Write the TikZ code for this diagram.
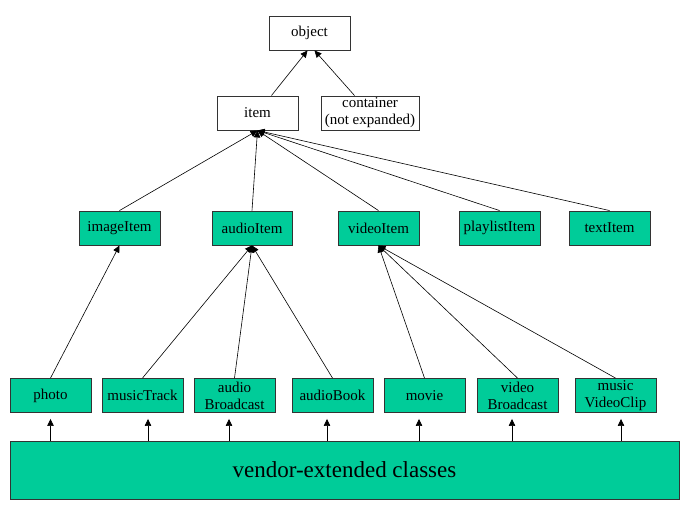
\documentclass[tikz,border=0pt]{standalone}
\usepackage{fontspec}
\setmainfont{Liberation Serif}
\usetikzlibrary{arrows.meta,positioning,shapes}
\definecolor{clsgreen}{RGB}{0,204,153}

\begin{document}
\begin{tikzpicture} [->,>={Triangle[length=7pt,width=6.5pt]},x=1pt,y=-1pt,line width=0.6pt,
  cls/.style={draw=black!80,line width=0.9pt,fill=clsgreen,minimum width=81pt,minimum height=34pt,
    inner sep=1pt,align=center,font=\fontsize{15}{17}\selectfont},
  base/.style={cls,fill=white}]

  \useasboundingbox (0,0) rectangle (685,515);

  % upper part
  \node[base] (obj) at (309.5,33) {object};
  \node[base] (item) at (257.5,113) {item};
  \node[base, minimum width=98pt] (cont) at (370,113) {container\\(not expanded)};

  % item classes
  \node[cls] (img) at (119.5,228) {imageItem};
  \node[cls, minimum width=80pt] (aud) at (252,228) {audioItem};
  \node[cls] (vid) at (378.5,228) {videoItem};
  \node[cls] (plist) at (499.5,228) {playlistItem};
  \node[cls] (txt) at (609.5,228) {textItem};

  % leaf classes
  \node[cls] (photo) at (50.5,395.5) {photo};
  \node[cls] (mtrack) at (142.5,395.5) {musicTrack};
  \node[cls] (abcast) at (234.5,395.5) {audio\\Broadcast};
  \node[cls] (abook) at (332.5,395.5) {audioBook};
  \node[cls] (movie) at (424.5,395.5) {movie};
  \node[cls] (vbcast) at (517.5,395.5) {video\\Broadcast};
  \node[cls] (mvclip) at (615.5,395.5) {music\\VideoClip};

  \node[cls, minimum width=669pt, minimum height=58pt, font=\fontsize{23}{26}\selectfont]
    (vendor) at (344.5,470) {vendor-extended classes};

  \path
    (item) edge ([xshift=-2pt]obj.south)
    (cont) edge ([xshift=5pt]obj.south)
    (img.north) edge (item.south)
    (aud.north) edge (item.south)
    (vid.north) edge (item.south)
    (plist.north) edge (item.south)
    (txt.north) edge (item.south)
    (photo.north) edge (img.south)
    (mtrack.north) edge (aud.south)
    (abcast.north) edge (aud.south)
    (abook.north) edge (aud.south)
    (movie.north) edge (vid.south)
    (vbcast.north) edge (vid.south)
    (mvclip.north) edge (vid.south);

  \foreach \n/\dx in {photo/0,mtrack/5.5,abcast/-5.5,abook/-5.5,movie/-5.5,vbcast/-5.5,mvclip/5.5} {
    \coordinate (tip) at ([xshift=\dx pt]\n.south);
    \draw[shorten >=6pt] (vendor.north -| tip) -- (tip);
  }

\end{tikzpicture}
\end{document}
